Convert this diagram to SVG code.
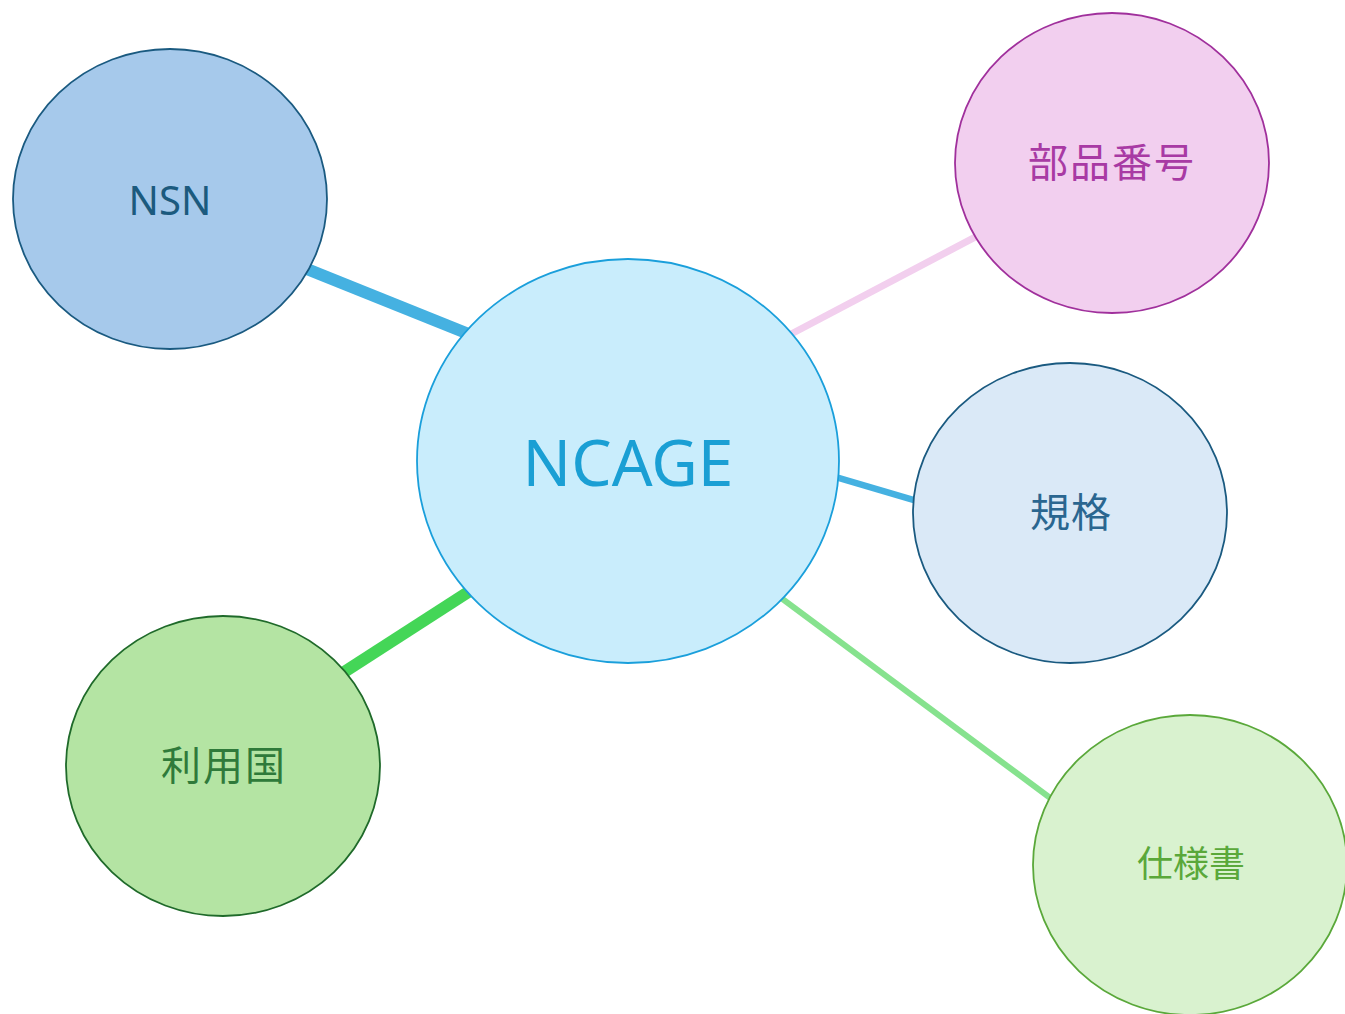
<svg xmlns="http://www.w3.org/2000/svg" width="1345" height="1014" viewBox="0 0 1345 1014">
<style>
.lbl{font-family:"Noto Sans","Noto Sans CJK JP",sans-serif;text-anchor:middle}
.cjk{font-family:"Noto Sans CJK JP","Noto Sans",sans-serif;text-anchor:middle}
ellipse{stroke-width:1.8}
line{stroke-linecap:butt}
</style>
<rect width="1345" height="1014" fill="#ffffff"/>
<g id="connectors">
<line x1="170" y1="214" x2="628" y2="398" stroke="#45b1e1" stroke-width="12"/>
<line x1="1112" y1="165" x2="628" y2="420" stroke="#f2cfee" stroke-width="7"/>
<line x1="1070" y1="546" x2="628" y2="416" stroke="#45b1e1" stroke-width="6.5"/>
<line x1="223" y1="750" x2="628" y2="489" stroke="#44d657" stroke-width="12"/>
<line x1="1190" y1="902" x2="628" y2="484" stroke="#86e28e" stroke-width="6"/>
</g>
<g id="node-ncage">
<ellipse cx="628" cy="461" rx="211" ry="202" fill="#c9edfc" stroke="#1a9fdb"/>
<text class="lbl" x="628" y="486" font-size="64" fill="#1a9fd4">NCAGE</text>
</g>
<g id="node-nsn">
<ellipse cx="170" cy="199" rx="157" ry="150" fill="#a6c9eb" stroke="#1a5a80"/>
<text class="lbl" x="170" y="215" font-size="40" fill="#1b5a7e">NSN</text>
</g>
<g id="node-buhin">
<ellipse cx="1112" cy="163" rx="157" ry="150" fill="#f2cfef" stroke="#a0309c"/>
<text class="cjk" x="1112" y="177" font-size="40" letter-spacing="2" fill="#a83aa4">部品番号</text>
</g>
<g id="node-kikaku">
<ellipse cx="1070" cy="513" rx="157" ry="150" fill="#dae9f7" stroke="#1a5a80"/>
<text class="cjk" x="1071" y="527" font-size="40" letter-spacing="1" fill="#2a6690">規格</text>
</g>
<g id="node-riyoukoku">
<ellipse cx="223" cy="766" rx="157" ry="150" fill="#b4e4a3" stroke="#1f6a2a"/>
<text class="cjk" x="224" y="780" font-size="40" letter-spacing="2" fill="#2f7a3a">利用国</text>
</g>
<g id="node-shiyousho">
<ellipse cx="1190" cy="865" rx="157" ry="150" fill="#d9f2cf" stroke="#5aa83a"/>
<text class="cjk" x="1191" y="877" font-size="36" fill="#5aa83a">仕様書</text>
</g>
</svg>
